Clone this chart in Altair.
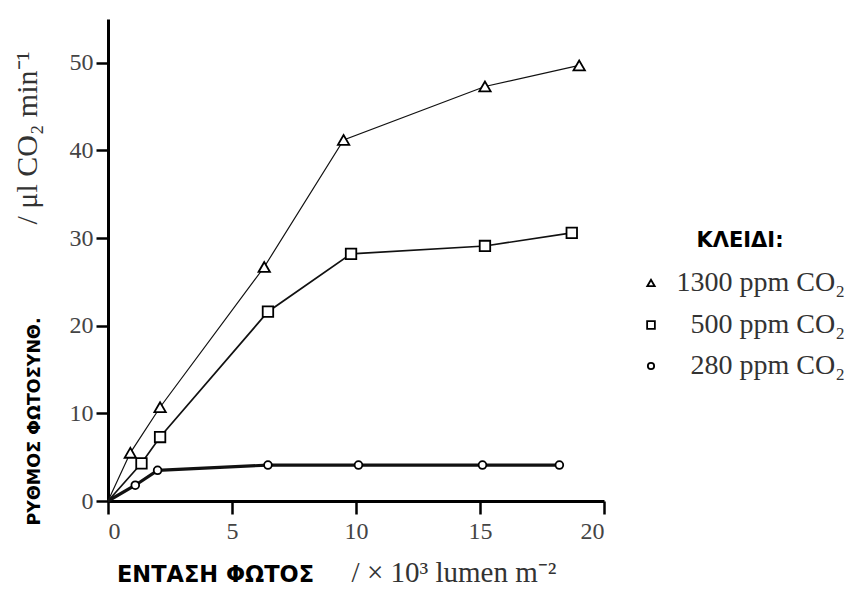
import altair as alt
import pandas as pd

# ---- data ----
series_names = ["1300 ppm CO₂", "500 ppm CO₂", "280 ppm CO₂"]
x_1300 = [0.9, 2.1, 6.3, 9.5, 15.2, 19.0]
y_1300 = [5.5, 10.7, 26.7, 41.2, 47.3, 49.7]
x_500 = [1.35, 2.1, 6.45, 9.8, 15.2, 18.7]
y_500 = [4.3, 7.3, 21.6, 28.2, 29.1, 30.6]
x_280 = [1.1, 2.0, 6.45, 10.1, 15.1, 18.2]
y_280 = [1.8, 3.5, 4.1, 4.1, 4.1, 4.1]
origin_x = 0
origin_y = 0
x_ticks = [0, 5, 10, 15, 20]
y_ticks = [0, 10, 20, 30, 40, 50]

x_title = "ΕΝΤΑΣΗ ΦΩΤΟΣ"
x_unit = "/ × 10³ lumen m⁻²"
y_title = "ΡΥΘΜΟΣ ΦΩΤΟΣΥΝΘ."
y_unit = "/ μl CO₂ min⁻¹"
legend_title = "ΚΛΕΙΔΙ:"

# styles per series
line_widths = [1.2, 1.7, 3.2]
marker_sizes = [130, 110, 60]
legend_sizes = [55, 60, 40]
shapes = ["triangle-up", "square", "circle"]

# ---- build table ----
rows = []
for name, xs, ys in zip(series_names, [x_1300, x_500, x_280], [y_1300, y_500, y_280]):
    rows.append({"series": name, "x": origin_x, "y": origin_y, "order": 0, "marker": False})
    for i, (xv, yv) in enumerate(zip(xs, ys)):
        rows.append({"series": name, "x": xv, "y": yv, "order": i + 1, "marker": True})
df = pd.DataFrame(rows)

SERIF = "Liberation Serif"
SANS = "DejaVu Sans"

x_enc = alt.X(
    "x:Q",
    scale=alt.Scale(domain=[0, 20], nice=False),
    axis=alt.Axis(
        values=x_ticks, grid=False, format="d",
        title=x_title, titleX=107, titleY=73, titleAlign="center", titleBaseline="middle",
        titleFont=SANS, titleFontSize=22.5, titleFontWeight="bold", titleColor="black",
        labelFont=SERIF, labelFontSize=24, labelColor="#444", labelPadding=5,
        tickSize=13, tickWidth=2.5, tickColor="black",
        domainWidth=3, domainColor="black",
    ),
)
y_enc = alt.Y(
    "y:Q",
    scale=alt.Scale(domain=[0, 55], nice=False),
    axis=alt.Axis(
        values=y_ticks, grid=False, format="d",
        title=y_title, titleX=-74, titleY=402, titleAngle=270,
        titleAlign="center", titleBaseline="middle",
        titleFont=SANS, titleFontSize=17.5, titleFontWeight="bold", titleColor="black",
        labelFont=SERIF, labelFontSize=24, labelColor="#444", labelPadding=3,
        tickSize=12, tickWidth=2.5, tickColor="black",
        domainWidth=3, domainColor="black",
    ),
)

base = alt.Chart(df)
layers = []
for i, name in enumerate(series_names):
    flt = alt.datum.series == name
    line = base.transform_filter(flt).mark_line(
        color="#111", strokeWidth=line_widths[i]
    ).encode(x=x_enc, y=y_enc, order="order:Q")
    layers.append(line)
for i, name in enumerate(series_names):
    flt = (alt.datum.series == name) & alt.datum.marker
    pts = base.transform_filter(flt).mark_point(
        filled=False, fill="white", fillOpacity=1, color="black", stroke="black",
        strokeWidth=1.8, opacity=1, size=marker_sizes[i], shape=shapes[i],
    ).encode(x="x:Q", y="y:Q")
    layers.append(pts)

# ---- unit annotations ----
y_unit_text = alt.Chart(pd.DataFrame({"t": [y_unit]})).mark_text(
    angle=270, font=SERIF, fontSize=30, color="#333", align="center", baseline="middle"
).encode(text="t:N", x=alt.value(-80), y=alt.value(119))
x_unit_text = alt.Chart(pd.DataFrame({"t": [x_unit]})).mark_text(
    font=SERIF, fontSize=29, color="#333", align="center", baseline="middle"
).encode(text="t:N", x=alt.value(346), y=alt.value(554))
layers += [y_unit_text, x_unit_text]

# ---- legend (key) drawn at the right of the plot ----
leg_title = alt.Chart(pd.DataFrame({"t": [legend_title]})).mark_text(
    font=SANS, fontSize=21, fontWeight="bold", color="black", align="center", baseline="middle"
).encode(text="t:N", x=alt.value(632), y=alt.value(222))
layers.append(leg_title)
legend_rows_y = [264, 306, 347]
for i, name in enumerate(series_names):
    ld = pd.DataFrame({"t": [name]})
    sym = alt.Chart(ld).mark_point(
        shape=shapes[i], size=legend_sizes[i], filled=False, fill="white", fillOpacity=1,
        stroke="black", strokeWidth=1.8, opacity=1,
    ).encode(x=alt.value(543), y=alt.value(legend_rows_y[i]))
    lab = alt.Chart(ld).mark_text(
        font=SERIF, fontSize=28, color="#333", align="right", baseline="middle"
    ).encode(text="t:N", x=alt.value(737), y=alt.value(legend_rows_y[i]))
    layers += [sym, lab]

chart = alt.layer(*layers).properties(
    width=496,
    height=482,
    autosize=alt.AutoSizeParams(type="none"),
    padding={"left": 100, "top": 11, "right": 241, "bottom": 87},
    background="white",
).configure_view(stroke=None)

chart.save("out.html", embed_options={"renderer": "svg", "actions": False})
